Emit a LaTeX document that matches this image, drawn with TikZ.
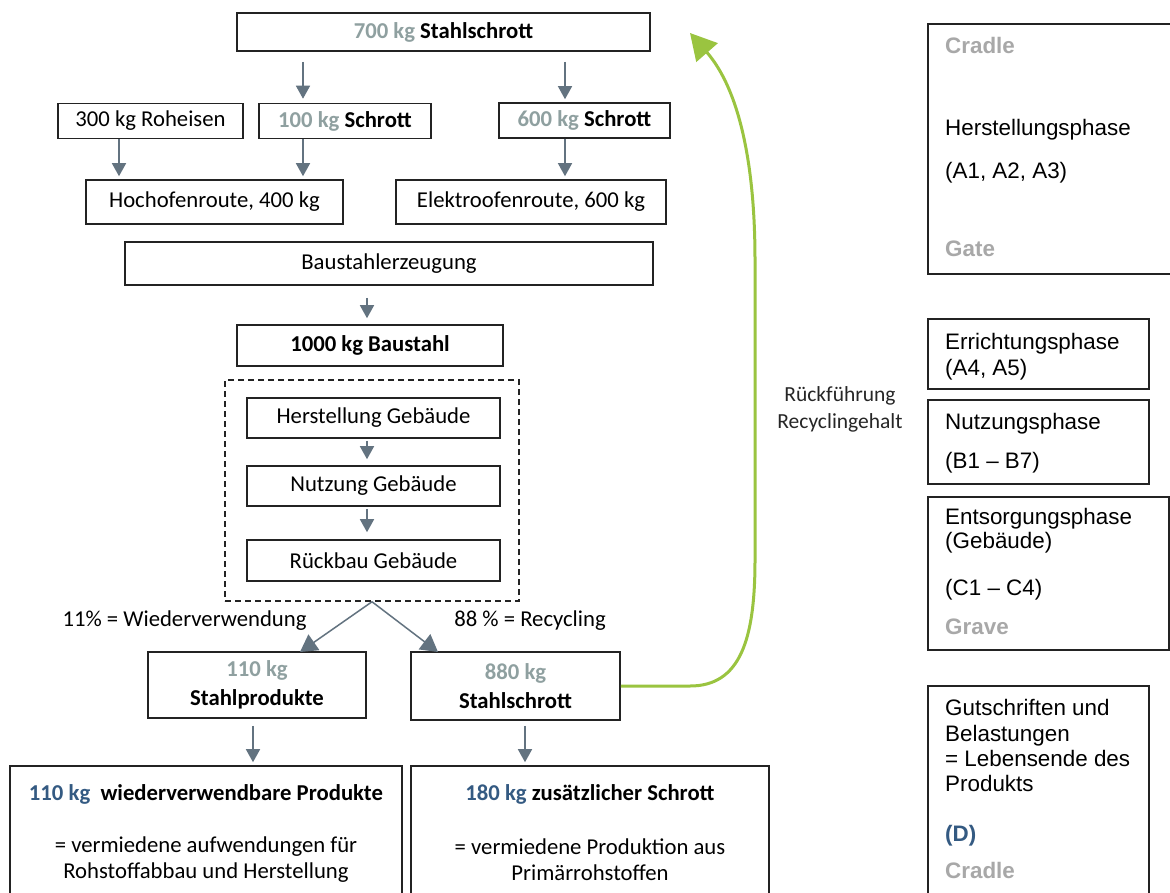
\documentclass[tikz,border=0pt]{standalone}
\usepackage{fontspec}
\setmainfont{Carlito}
\newfontfamily\arl{Liberation Sans}
\usetikzlibrary{arrows.meta}
\definecolor{kgray}{RGB}{143,160,160}
\definecolor{kblue}{RGB}{52,90,130}
\definecolor{agray}{RGB}{99,115,128}
\definecolor{lgray}{RGB}{168,168,168}
\definecolor{kgreen}{RGB}{154,196,64}
\definecolor{edge}{RGB}{35,35,35}
\begin{document}
\begin{tikzpicture}[x=1pt,y=-1pt,
  box/.style={draw=edge, line width=1.6pt, rectangle, inner sep=0pt, align=center,
    font=\fontsize{22.7}{29}\selectfont},
  rbox/.style={draw=edge, line width=1.4pt, rectangle, inner sep=0pt},
  arr/.style={draw=agray, line width=1.5pt, -{Triangle[length=13pt,width=14pt]}},
  arrb/.style={draw=agray, line width=1.5pt, -{Triangle[length=17pt,width=19pt]}},
  garr/.style={draw=kgreen, line width=3pt, -{Triangle[length=26pt,width=28pt]}},
  lbl/.style={inner sep=0pt, font=\fontsize{22.7}{29}\selectfont, align=center},
  rt/.style={inner sep=0pt, anchor=west, text height=16pt, text depth=4.5pt,
    font=\arl\fontsize{22.4}{27}\selectfont},
  rg/.style={rt, text=lgray, font=\arl\bfseries\fontsize{22.4}{27}\selectfont},
]
\clip (0,0) rectangle (1170,892);
\fill[white] (0,0) rectangle (1170,892);

% ---- left flow ----
\node[box, minimum width=413pt, minimum height=38pt] (top) at (443.5,32)
  {\textcolor{kgray}{\bfseries 700 kg} \textbf{Stahlschrott}};
\node[box, minimum width=185pt, minimum height=35pt] (roh) at (150.5,121) {300 kg Roheisen};
\node[box, minimum width=172pt, minimum height=35pt] (s100) at (345,121)
  {\textcolor{kgray}{\bfseries 100 kg} \textbf{Schrott}};
\node[box, minimum width=171pt, minimum height=35pt] (s600) at (584.5,120.5)
  {\textcolor{kgray}{\bfseries 600 kg} \textbf{Schrott}};
\node[box, minimum width=257pt, minimum height=44pt] (hoch) at (214.5,202) {Hochofenroute, 400 kg};
\node[box, minimum width=270pt, minimum height=44pt] (elek) at (531,202) {Elektroofenroute, 600 kg};
\node[box, minimum width=528pt, minimum height=43pt] (baus) at (389,263.5) {Baustahlerzeugung};
\node[box, minimum width=266pt, minimum height=41pt] (b1000) at (370,345.5) {\textbf{1000 kg Baustahl}};
\node[draw=edge, line width=1.5pt, dash pattern=on 6pt off 4pt, rectangle, inner sep=0pt,
  minimum width=294pt, minimum height=221pt] (dash) at (372,490.5) {};
\node[box, minimum width=253pt, minimum height=40pt] (herst) at (373.5,418) {Herstellung Gebäude};
\node[box, minimum width=253pt, minimum height=40pt] (nutz) at (373.5,486) {Nutzung Gebäude};
\node[box, minimum width=253pt, minimum height=41pt] (rueck) at (373.5,560.5) {Rückbau Gebäude};
\node[box, minimum width=218pt, minimum height=66pt] (prod) at (257,685)
  {\textcolor{kgray}{\bfseries 110 kg}\\\textbf{Stahlprodukte}};
\node[box, minimum width=209pt, minimum height=68pt] (s880) at (515.5,686)
  {\textcolor{kgray}{\bfseries 880 kg}\\\textbf{Stahlschrott}};
\node[box, minimum width=392pt, minimum height=148pt] (bl) at (206,840) {};
\node[box, minimum width=358pt, minimum height=148pt] (br) at (590,840) {};

\node[lbl] (bl1) at (206,794) {\textcolor{kblue}{\bfseries 110 kg}\ \ \textbf{wiederverwendbare Produkte}};
\node[lbl] (bl2) at (206,847) {= vermiedene aufwendungen für};
\node[lbl] (bl3) at (206,873) {Rohstoffabbau und Herstellung};
\node[lbl] (br1) at (590,794) {\textcolor{kblue}{\bfseries 180 kg} \textbf{zusätzlicher Schrott}};
\node[lbl] (br2) at (590,847) {= vermiedene Produktion aus};
\node[lbl] (br3) at (590,873) {Primärrohstoffen};

\node[lbl] (lw) at (184.5,621) {11\% = Wiederverwendung};
\node[lbl] (lr) at (530,621) {88 \% = Recycling};
\node[lbl, font=\fontsize{21.5}{27}\selectfont, text=black!85] (rf) at (840,409) {Rückführung\\Recyclingehalt};

% arrow columns
\coordinate (cA) at (303,0);
\coordinate (cB) at (565,0);
\coordinate (cC) at (119,0);
\coordinate (cD) at (367,0);
\coordinate (cE) at (253,0);
\coordinate (cF) at (525,0);
\coordinate (tipL) at (300,652);
\coordinate (tipR) at (438,652);
\coordinate (gtip) at (690,33);

\draw[arr, shorten <=10pt, shorten >=4pt] (top.south -| cA) -- (s100.north -| cA);
\draw[arr, shorten <=10pt, shorten >=3pt] (top.south -| cB) -- (s600.north -| cB);
\draw[arr, shorten >=3pt] (roh.south -| cC) -- (hoch.north -| cC);
\draw[arr, shorten >=3pt] (s100.south -| cA) -- (hoch.north -| cA);
\draw[arr, shorten >=3pt] (s600.south -| cB) -- (elek.north -| cB);
\draw[arr, shorten <=12pt, shorten >=6pt] (baus.south -| cD) -- (b1000.north -| cD);
\draw[arr, shorten <=2pt, shorten >=6pt] (herst.south -| cD) -- (nutz.north -| cD);
\draw[arr, shorten <=2pt, shorten >=7pt] (nutz.south -| cD) -- (rueck.north -| cD);
\draw[arrb] (dash.south) -- (tipL);
\draw[arrb] (dash.south) -- (tipR);
\draw[arr, shorten <=7pt, shorten >=3pt] (prod.south -| cE) -- (bl.north -| cE);
\draw[arr, shorten <=5pt, shorten >=3pt] (s880.south -| cF) -- (br.north -| cF);

% green return arrow
\draw[garr] (s880.east) -- (690,686) .. controls (740,686) and (755,640) .. (755,560)
  -- (755,260) .. controls (755,160) and (738,88) .. (gtip);

% ---- right column ----
\node[rbox, minimum width=252pt, minimum height=250pt] (R1) at (1054,149) {};
\node[rbox, minimum width=221pt, minimum height=70pt] (R2) at (1038.5,354) {};
\node[rbox, minimum width=221pt, minimum height=84pt] (R3) at (1038.5,442) {};
\node[rbox, minimum width=241pt, minimum height=153pt] (R4) at (1048.5,573.5) {};
\node[rbox, minimum width=221pt, minimum height=224pt] (R5) at (1038.5,798) {};

\node[rg] (t1) at (945,48) {Cradle};
\node[rt] (t2) at (945,130) {Herstellungsphase};
\node[rt] (t3) at (945,173) {(A1, A2, A3)};
\node[rg] (t4) at (945,251) {Gate};
\node[rt] (t5) at (945,344) {Errichtungsphase};
\node[rt] (t6) at (945,370) {(A4, A5)};
\node[rt] (t7) at (945,424) {Nutzungsphase};
\node[rt] (t8) at (945,463) {(B1 – B7)};
\node[rt] (t9) at (945,519) {Entsorgungsphase};
\node[rt] (t10) at (945,543) {(Gebäude)};
\node[rt] (t11) at (945,590) {(C1 – C4)};
\node[rg] (t12) at (945,629) {Grave};
\node[rt] (t13) at (945,710) {Gutschriften und};
\node[rt] (t14) at (945,736) {Belastungen};
\node[rt] (t15) at (945,761) {= Lebensende des};
\node[rt] (t16) at (945,786) {Produkts};
\node[rt, text=kblue, font=\arl\bfseries\fontsize{22.4}{27}\selectfont] (t17) at (945,836) {(D)};
\node[rg] (t18) at (945,873) {Cradle};
\end{tikzpicture}
\end{document}
